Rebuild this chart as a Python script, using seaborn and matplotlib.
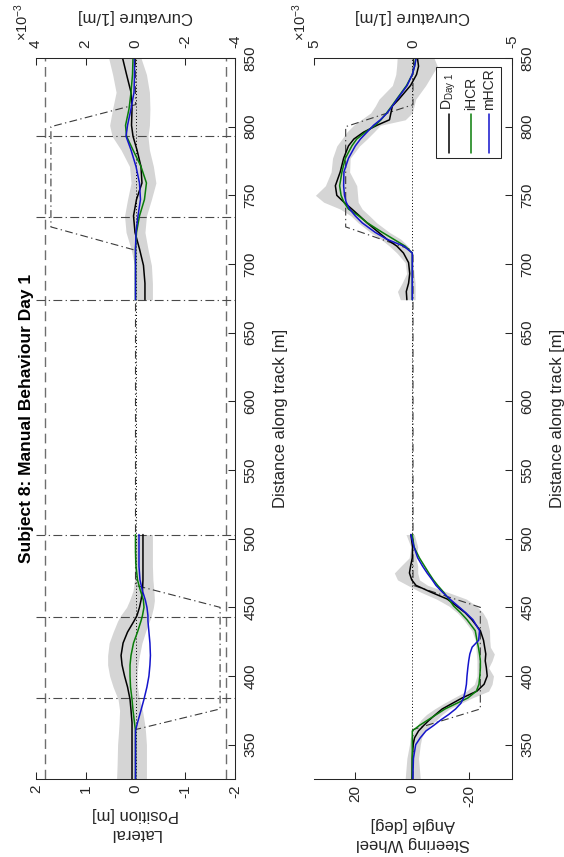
import numpy as np
import pandas as pd
import matplotlib
matplotlib.use("Agg")
import matplotlib.pyplot as plt
import seaborn as sns
from matplotlib.patches import Rectangle
from matplotlib.ticker import FixedLocator, FuncFormatter

# ---------------- data ----------------
# Lateral position [m], first curve section
dist_lat_a = [325, 335, 350, 360, 366, 375, 383, 392, 400, 408, 415, 424, 432, 440, 444, 450, 455, 462, 470, 480, 490, 503]
lat_day1_a = [0.07, 0.07, 0.07, 0.07, 0.07, 0.09, 0.11, 0.16, 0.22, 0.27, 0.29, 0.25, 0.16, 0.03, -0.03, -0.08, -0.11, -0.14, -0.15, -0.15, -0.15, -0.15]
lat_ihcr_a = [0.0, 0.0, 0.0, 0.0, 0.02, 0.05, 0.07, 0.10, 0.11, 0.11, 0.09, 0.04, -0.04, -0.11, -0.14, -0.17, -0.16, -0.10, -0.04, -0.01, 0.0, 0.0]
lat_mhcr_a = [0.0, 0.0, 0.0, 0.0, -0.04, -0.11, -0.17, -0.23, -0.27, -0.29, -0.30, -0.29, -0.27, -0.25, -0.25, -0.23, -0.20, -0.14, -0.09, -0.07, -0.07, -0.07]
lat_hi_a = [0.38, 0.37, 0.36, 0.34, 0.33, 0.32, 0.35, 0.45, 0.52, 0.56, 0.56, 0.53, 0.45, 0.36, 0.30, 0.18, 0.12, 0.05, 0.02, 0.02, 0.02, 0.02]
lat_lo_a = [-0.22, -0.22, -0.22, -0.20, -0.18, -0.14, -0.08, -0.04, -0.03, -0.05, -0.08, -0.13, -0.20, -0.28, -0.32, -0.36, -0.38, -0.37, -0.35, -0.34, -0.34, -0.34]

# Lateral position [m], second curve section
dist_lat_b = [674, 686, 699, 711, 723, 735, 747, 759, 771, 783, 793, 801, 813, 825, 838, 850]
lat_day1_b = [-0.19, -0.19, -0.16, -0.08, 0.01, 0.04, -0.02, -0.13, -0.11, -0.03, 0.05, 0.08, 0.07, 0.09, 0.18, 0.26]
lat_ihcr_b = [0.0, 0.0, 0.0, 0.0, -0.02, -0.08, -0.18, -0.22, -0.11, 0.05, 0.18, 0.20, 0.13, 0.09, 0.06, 0.05]
lat_mhcr_b = [0.0, 0.0, 0.0, 0.0, -0.01, -0.05, -0.10, -0.08, -0.01, 0.09, 0.19, 0.16, 0.09, 0.03, 0.02, 0.02]
lat_hi_b = [0.0, 0.0, 0.02, 0.09, 0.19, 0.22, 0.16, 0.09, 0.12, 0.29, 0.47, 0.52, 0.46, 0.39, 0.46, 0.54]
lat_lo_b = [-0.34, -0.34, -0.32, -0.25, -0.19, -0.22, -0.32, -0.41, -0.36, -0.28, -0.25, -0.28, -0.29, -0.28, -0.22, -0.11]

# Steering wheel angle [deg], first curve section
dist_str_a = [325, 340, 350, 355, 360, 364, 368, 372, 376, 380, 384, 389, 394, 400, 406, 411,
              416, 421, 426, 433, 441, 446, 451, 456, 461, 466, 470, 475, 480, 486, 494, 503]
str_day1_a = [0.1, 0.0, -0.3, -0.8, -2.2, -4.0, -6.0, -8.2, -10.5, -14.0, -17.5, -22.7, -25.2, -26.3, -26.0, -25.6,
              -25.8, -25.4, -25.0, -23.9, -20.9, -18.6, -15.5, -12.3, -6.6, -1.3, 0.2, 1.0, 0.6, 0.0, -0.1, 0.5]
str_ihcr_a = [0.0, 0.0, 0.0, 0.0, 0.0, -2.5, -5.5, -8.5, -11.5, -15.5, -19.5, -22.5, -23.4, -23.7, -23.9, -23.9,
              -23.6, -23.2, -22.7, -22.1, -19.2, -17.0, -14.5, -12.8, -11.0, -8.9, -7.4, -5.8, -4.3, -2.5, -0.6, 0.0]
str_mhcr_a = [-0.2, -0.4, -1.2, -2.8, -4.8, -7.5, -10.0, -12.8, -15.2, -17.0, -18.0, -18.6, -19.0, -19.2, -19.5, -19.8,
              -20.2, -21.0, -23.3, -23.6, -21.3, -18.8, -16.0, -13.2, -10.6, -8.3, -7.0, -5.2, -3.6, -1.9, -0.6, 0.5]
str_hi_a = [2.5, 1.9, 1.0, 0.7, -0.5, -1.8, -3.0, -5.0, -7.8, -11.0, -14.5, -19.0, -21.8, -22.7, -22.7, -22.7,
            -22.5, -22.3, -22.1, -20.9, -18.0, -15.8, -12.8, -8.5, -3.0, 1.6, 5.2, 6.3, 4.0, 1.1, 0.5, 2.2]
str_lo_a = [-2.8, -2.2, -2.8, -3.3, -4.5, -6.2, -8.5, -10.5, -13.0, -17.0, -21.0, -26.8, -28.0, -28.5, -26.8, -28.0,
            -28.8, -27.4, -27.2, -27.1, -26.2, -24.8, -22.5, -19.0, -12.4, -5.4, -2.5, -1.9, -1.9, -1.3, -1.9, -0.7]

# Steering wheel angle [deg], second curve section
dist_str_b = [674, 680, 686, 693, 701, 708, 713, 718, 723, 730, 735, 740, 745, 750, 757,
              767, 777, 786, 791, 796, 801, 805, 810, 815, 820, 830, 838, 844, 850]
str_day1_b = [1.9, 2.1, 1.3, 0.9, 1.3, 3.1, 5.4, 8.9, 11.8, 15.9, 18.5, 21.2, 24.0, 26.5, 27.0,
              25.3, 24.1, 22.4, 20.5, 17.1, 12.4, 8.0, 7.5, 7.0, 4.7, 0.6, -1.5, -2.2, -1.8]
str_ihcr_b = [0.0, 0.0, 0.0, 0.0, 0.0, 0.0, 2.5, 6.5, 10.5, 15.8, 18.8, 22.4, 24.0, 25.0, 25.5,
              24.7, 23.5, 21.2, 19.5, 16.5, 13.0, 11.0, 9.0, 7.2, 5.5, 2.0, 0.0, -0.8, -1.2]
str_mhcr_b = [0.0, 0.0, 0.0, 0.0, 0.0, 0.0, 3.0, 8.9, 13.0, 17.6, 20.0, 22.0, 23.2, 23.8, 24.1,
              24.0, 22.4, 20.0, 18.2, 15.9, 13.6, 11.2, 8.8, 7.0, 5.3, 1.8, 0.0, -0.8, -1.4]
str_hi_b = [4.2, 5.2, 3.6, 2.0, 2.5, 5.4, 8.0, 11.0, 14.7, 19.0, 21.5, 25.3, 31.1, 34.0, 30.5,
            28.5, 28.0, 26.5, 24.7, 23.0, 20.6, 18.0, 14.6, 13.0, 11.7, 7.0, 5.8, 5.5, 5.3]
str_lo_b = [-1.0, -1.0, -1.0, -0.6, -0.3, 0.0, 1.5, 4.0, 8.0, 12.5, 15.0, 17.6, 19.0, 19.2, 19.5,
            22.0, 21.8, 18.5, 15.9, 13.5, 11.2, 2.5, 0.0, -0.6, -1.2, -4.7, -7.0, -8.8, -7.6]

# Road curvature profile [1/m]
dist_curv = [325, 361, 376, 450, 466, 710, 727, 800, 816, 850]
curvature = [0.0, 0.0, -3.4e-3, -3.4e-3, 0.0, 0.0, 3.4e-3, 3.4e-3, 0.0, 0.0]

# Section boundaries [m] and lane edges [m]
section_bounds = [384, 443, 503, 674, 734, 793]
lane_edges = [1.825, -1.825]

series_names = ["D_Day1", "iHCR", "mHCR"]
series_colors = {"D_Day1": "#000000", "iHCR": "#0a7d0a", "mHCR": "#1414cc"}
legend_labels = [r"D$_{\mathrm{Day\ 1}}$", "iHCR", "mHCR"]

dist_ticks = [350, 400, 450, 500, 550, 600, 650, 700, 750, 800, 850]
lat_ticks = [2, 1, 0, -1, -2]
str_ticks = [20, 0, -20]
curv_ticks_lat = [4e-3, 2e-3, 0.0, -2e-3, -4e-3]
curv_ticks_str = [5e-3, 0.0, -5e-3]


def long_form(dist_a, dist_b, vals_a, vals_b):
    parts = []
    for name, va, vb in zip(series_names, vals_a, vals_b):
        parts.append(pd.DataFrame({"dist": dist_a, "value": va, "series": name, "seg": "a"}))
        parts.append(pd.DataFrame({"dist": dist_b, "value": vb, "series": name, "seg": "b"}))
    return pd.concat(parts, ignore_index=True)


lat_df = long_form(dist_lat_a, dist_lat_b,
                   [lat_day1_a, lat_ihcr_a, lat_mhcr_a], [lat_day1_b, lat_ihcr_b, lat_mhcr_b])
str_df = long_form(dist_str_a, dist_str_b,
                   [str_day1_a, str_ihcr_a, str_mhcr_a], [str_day1_b, str_ihcr_b, str_mhcr_b])

# ---------------- style ----------------
sns.set_theme(style="white")
plt.rcParams["font.family"] = ["Liberation Sans", "DejaVu Sans"]
plt.rcParams["mathtext.fontset"] = "custom"
plt.rcParams["mathtext.rm"] = "Liberation Sans"
plt.rcParams["mathtext.it"] = "Liberation Sans:italic"
plt.rcParams["axes.unicode_minus"] = False

INK = "#262626"
W, H = 564, 857


def rect(x0, x1, y0, y1):
    return [x0 / W, 1 - y1 / H, (x1 - x0) / W, (y1 - y0) / H]


fig = plt.figure(figsize=(W / 100, H / 100), dpi=100)
ax_lat = fig.add_axes(rect(36, 235, 58, 779))
ax_str = fig.add_axes(rect(314, 512, 58, 779))


def draw_panel(ax, df, bands, xlim, xticks, curv_lim, curv_ticks, xlabel, label_y):
    tw = ax.twiny()
    tw.set_xlim(*curv_lim)
    ax.set_xlim(*xlim)
    ax.set_ylim(325, 850)

    # spread of the day-1 drives
    for d, lo, hi in bands:
        ax.fill_betweenx(d, lo, hi, color="#d5d5d5", lw=0, zorder=1)

    # zero reference
    ax.axvline(0, color="black", lw=0.7, ls=(0, (1, 2.2)), zorder=2)

    # curvature profile, drawn in curvature units of the top axis
    ax.plot(curvature, dist_curv, transform=tw.transData,
            color="#3a3a3a", lw=0.8, ls=(0, (7, 3, 1.2, 3)), zorder=2)

    sns.lineplot(data=df, x="value", y="dist", hue="series", units="seg",
                 estimator=None, sort=False, hue_order=series_names,
                 palette=series_colors, linewidth=1.1, legend=False, ax=ax, zorder=4)

    ax.set_xlim(*xlim)
    ax.set_ylim(325, 850)

    # axes frame
    for side in ("left", "top"):
        ax.spines[side].set_visible(False)
    for side in ("bottom", "right"):
        ax.spines[side].set_color(INK)
        ax.spines[side].set_linewidth(0.75)
    for side in ("left", "bottom", "right"):
        tw.spines[side].set_visible(False)
    tw.spines["top"].set_color(INK)
    tw.spines["top"].set_linewidth(0.75)

    ax.xaxis.set_major_locator(FixedLocator(xticks))
    ax.yaxis.set_major_locator(FixedLocator(dist_ticks))
    ax.yaxis.tick_right()
    ax.tick_params(axis="x", direction="in", length=5, width=0.75, color=INK,
                   labelcolor=INK, labelsize=11, labelrotation=90, pad=4,
                   bottom=True, top=False)
    ax.tick_params(axis="y", direction="in", length=5, width=0.75, color=INK,
                   labelcolor=INK, labelsize=11, labelrotation=90, pad=6,
                   left=False, right=True, labelleft=False, labelright=True)
    for lbl in ax.get_yticklabels():
        lbl.set_va("center")

    tw.xaxis.set_major_locator(FixedLocator(curv_ticks))
    tw.xaxis.set_major_formatter(FuncFormatter(lambda v, p: f"{v * 1e3:g}"))
    tw.tick_params(axis="x", direction="in", length=5, width=0.75, color=INK,
                   labelcolor=INK, labelsize=11, labelrotation=90, pad=7,
                   top=True, bottom=False)

    ax.set_xlabel(xlabel, rotation=180, fontsize=12, color=INK,
                  ha="center", va="center", linespacing=1.3)
    ax.xaxis.set_label_coords(0.5, label_y)
    ax.set_ylabel("Distance along track [m]", rotation=90, fontsize=12, color=INK,
                  ha="center", va="center")
    ax.yaxis.set_label_position("right")
    ax.yaxis.set_label_coords(1.192, 0.5)

    tw.set_xlabel("Curvature [1/m]", rotation=180, fontsize=12, color=INK,
                  ha="center", va="center")
    tw.xaxis.set_label_coords(0.5, 1.057)
    # exponent of the curvature scale
    ax.text(-0.072, 1.05, r"$\times$10$^{-3}$", rotation=90, fontsize=10.5,
            color=INK, ha="center", va="center", transform=ax.transAxes)
    return tw


draw_panel(ax_lat, lat_df,
           [(dist_lat_a, lat_lo_a, lat_hi_a), (dist_lat_b, lat_lo_b, lat_hi_b)],
           (2, -2), lat_ticks, (4e-3, -4e-3), curv_ticks_lat,
           "Lateral\nPosition [m]", -0.0624)

draw_panel(ax_str, str_df,
           [(dist_str_a, str_lo_a, str_hi_a), (dist_str_b, str_lo_b, str_hi_b)],
           (34.5, -35.0), str_ticks, (5e-3, -5e-3), curv_ticks_str,
           "Steering Wheel\nAngle [deg]", -0.0763)

# lane edges and section boundaries on the lateral panel
for e in lane_edges:
    ax_lat.axvline(e, color="#6e6e6e", lw=1.0, ls=(0, (7, 4)), zorder=3)
for b in section_bounds:
    ax_lat.axhline(b, color="#4a4a4a", lw=0.8, ls=(0, (8, 3, 1.2, 3)), zorder=3)

# legend
ax_str.add_patch(Rectangle((0.614, 0.861), 0.328, 0.127, transform=ax_str.transAxes,
                           facecolor="white", edgecolor=INK, lw=0.75, zorder=6))
for xpos, name, label in zip([0.683, 0.793, 0.884], series_names, legend_labels):
    ax_str.plot([xpos, xpos], [0.868, 0.922], transform=ax_str.transAxes,
                color=series_colors[name], lw=1.1, zorder=7)
    ax_str.text(xpos, 0.928, label, rotation=90, fontsize=10, color=INK,
                ha="center", va="bottom", transform=ax_str.transAxes, zorder=7)

fig.text(27 / W, 1 - 418 / H, "Subject 8: Manual Behaviour Day 1", rotation=90,
         fontsize=12.5, fontweight="bold", color="black", ha="center", va="center")

fig.savefig("out.png", dpi=100)
